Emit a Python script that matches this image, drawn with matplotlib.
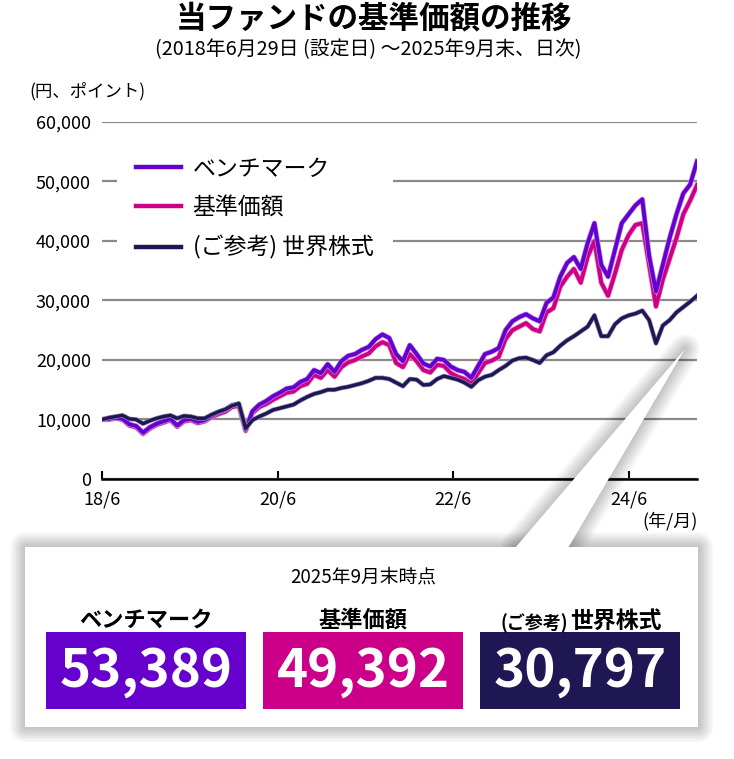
import matplotlib
matplotlib.use('Agg')
import matplotlib.pyplot as plt
import matplotlib.patheffects as pe
from matplotlib.lines import Line2D
from matplotlib.patches import Rectangle, Polygon
import numpy as np

plt.rcParams['font.family'] = ['Noto Sans CJK JP', 'DejaVu Sans']

# 月ごとの値 (2018/6 ～ 2025/9), グラフから読み取り
bench = [10000, 10100, 10300, 10100, 9200, 8900, 7800, 8700, 9300, 9700, 10100, 9000,
         9900, 10100, 9600, 9900, 10600, 11200, 11600, 12400, 12600, 8300, 11400, 12500,
         13100, 13900, 14500, 15200, 15400, 16300, 16800, 18300, 17800, 19300, 18000, 19800,
         20700, 21000, 21700, 22200, 23500, 24300, 23700, 21000, 19800, 22500, 21000, 19400,
         18900, 20200, 20000, 18900, 18300, 18000, 17000, 19000, 21000, 21400, 22000, 25000,
         26500, 27200, 27700, 27000, 26500, 29600, 30500, 34000, 36300, 37300, 35300, 39600,
         43000, 36000, 34000, 38500, 43000, 44500, 46000, 47000, 37500, 31500, 36000, 40500,
         44500, 48000, 49500, 53389]
fund = [10000, 10000, 10200, 10000, 9000, 8700, 7600, 8500, 9100, 9500, 9900, 8800,
        9700, 9900, 9400, 9700, 10400, 10900, 11300, 12100, 12300, 8100, 11100, 12100,
        12600, 13300, 13900, 14500, 14700, 15600, 16000, 17500, 17000, 18300, 17200, 18800,
        19600, 20000, 20600, 21100, 22300, 23000, 22500, 19500, 18800, 21000, 19800, 18300,
        17900, 19200, 19000, 17800, 17200, 16800, 16000, 17800, 19500, 19900, 20500, 23500,
        25000, 25600, 26200, 25200, 24800, 28000, 28700, 32300, 34000, 35300, 33000, 37300,
        40000, 33000, 30800, 34500, 38500, 41000, 42700, 43000, 36000, 29000, 33500, 37000,
        40500, 44500, 46800, 49392]
world = [10000, 10300, 10500, 10700, 10100, 10000, 9300, 9800, 10200, 10500, 10700, 10200,
         10600, 10500, 10200, 10200, 10800, 11300, 11700, 12300, 12700, 8500, 9900, 10500,
         11000, 11600, 11900, 12200, 12500, 13200, 13800, 14300, 14600, 15000, 15000, 15300,
         15500, 15800, 16100, 16500, 17000, 17000, 16800, 16200, 15600, 16800, 16700, 15800,
         15900, 16800, 17300, 17000, 16700, 16200, 15500, 16600, 17200, 17500, 18300, 19000,
         19900, 20300, 20400, 20000, 19500, 20800, 21300, 22400, 23300, 24000, 24800, 25600,
         27500, 24000, 24000, 26000, 27000, 27500, 27800, 28300, 26700, 22800, 25800, 26700,
         28000, 28900, 29800, 30797]

names = ['ベンチマーク', '基準価額', '(ご参考) 世界株式']
colors = ['#6600CC', '#CC0088', '#1F1654']
halo = ['#B68DE6', '#EC8CC6', '#8E8AAE']

x_ticks = [0, 25.7, 51.3, 77.05]
x_labels = ['18/6', '20/6', '22/6', '24/6']
y_ticks = [0, 10000, 20000, 30000, 40000, 50000, 60000]

W, H = 734, 759
def fx(px):
    return px / W
def fy(py):
    return 1 - py / H

fig = plt.figure(figsize=(W / 100, H / 100), dpi=100)
ax = fig.add_axes([fx(102), fy(479), (697 - 102) / W, (479 - 122) / H])

x = np.arange(len(bench))
series = [bench, fund, world]
widths = [2.8, 2.8, 2.4]
zs = [3, 2, 4]
for s, c, h, lw, z in zip(series, colors, halo, widths, zs):
    ax.plot(x, s, color=c, lw=lw, zorder=z, solid_joinstyle='round',
            path_effects=[pe.Stroke(linewidth=lw + 1.0, foreground=h), pe.Normal()])

ax.set_xlim(0, len(bench) - 1)
ax.set_ylim(0, 60000)
ax.set_yticks(y_ticks)
ax.set_yticklabels([f'{v:,}' for v in y_ticks])
ax.set_xticks(x_ticks)
ax.set_xticklabels(x_labels)
ax.yaxis.grid(True, color='#8a8a8a', lw=1.6)
ax.set_axisbelow(True)
for sp in ['left', 'right', 'top']:
    ax.spines[sp].set_visible(False)
ax.spines['bottom'].set_linewidth(1.8)
ax.tick_params(axis='y', length=0, pad=8, labelsize=13)
ax.tick_params(axis='x', direction='in', length=6, width=1.5, pad=8, labelsize=13)

handles = [Line2D([], [], color=c, lw=3.2) for c in colors]
leg = ax.legend(handles, names, loc='upper left',
                bbox_to_anchor=((117 - 102) / 595, (479 - 138) / 357),
                fontsize=16.5, handlelength=1.95, handletextpad=0.5,
                labelspacing=0.7, borderpad=0.85, borderaxespad=0,
                fancybox=False, framealpha=1)
leg.get_frame().set_facecolor('white')
leg.get_frame().set_edgecolor('none')

fig.text(fx(374), fy(18), '当ファンドの基準価額の推移', ha='center', va='center',
         fontsize=22, fontweight='bold')
fig.text(fx(368), fy(50), '(2018年6月29日 (設定日) ～2025年9月末、日次)',
         ha='center', va='center', fontsize=14.3)
fig.text(fx(29), fy(91), '(円、ポイント)', ha='left', va='center', fontsize=12.5)
fig.text(fx(698), fy(521), '(年/月)', ha='right', va='center', fontsize=13)

# 下のパネルと吹き出し
box = [(25, 547), (698, 727)]
tail = [(515, 548), (568, 548), (685, 349)]
def rect_patch(**kw):
    return Rectangle((fx(box[0][0]), fy(box[1][1])), (box[1][0] - box[0][0]) / W,
                     (box[1][1] - box[0][1]) / H, transform=fig.transFigure, **kw)
def tail_patch(**kw):
    return Polygon([(fx(a), fy(b)) for a, b in tail], closed=True,
                   transform=fig.transFigure, **kw)

for i in range(10):
    lw = 2 + i * 2.2
    fig.add_artist(rect_patch(fill=False, edgecolor='black', lw=lw, alpha=0.022,
                              joinstyle='round', zorder=5))
    fig.add_artist(tail_patch(fill=False, edgecolor='black', lw=lw, alpha=0.022,
                              joinstyle='round', zorder=5))
fig.add_artist(rect_patch(facecolor='white', edgecolor='none', zorder=6))
fig.add_artist(tail_patch(facecolor='white', edgecolor='none', zorder=6))

fig.text(fx(363), fy(577), '2025年9月末時点', ha='center', va='center',
         fontsize=13.5, zorder=8)

centers = [146, 363, 580]
for cx, c, s in zip(centers, colors, series):
    fig.add_artist(Rectangle((fx(cx - 100), fy(709)), 200 / W, 77 / H,
                             transform=fig.transFigure, facecolor=c,
                             edgecolor='none', zorder=7))
    fig.text(fx(cx), fy(672), f'{s[-1]:,}', ha='center', va='center', color='white',
             fontsize=38, fontweight='bold', zorder=8)

fig.text(fx(centers[0]), fy(620), names[0], ha='center', va='center',
         fontsize=16, fontweight='bold', zorder=8)
fig.text(fx(centers[1]), fy(620), names[1], ha='center', va='center',
         fontsize=16, fontweight='bold', zorder=8)
fig.text(fx(568), fy(629), '(ご参考)', ha='right', va='baseline',
         fontsize=13, fontweight='bold', zorder=8)
fig.text(fx(570), fy(629), '世界株式', ha='left', va='baseline',
         fontsize=16.5, fontweight='bold', zorder=8)

fig.savefig('out.png', dpi=100, facecolor='white')
